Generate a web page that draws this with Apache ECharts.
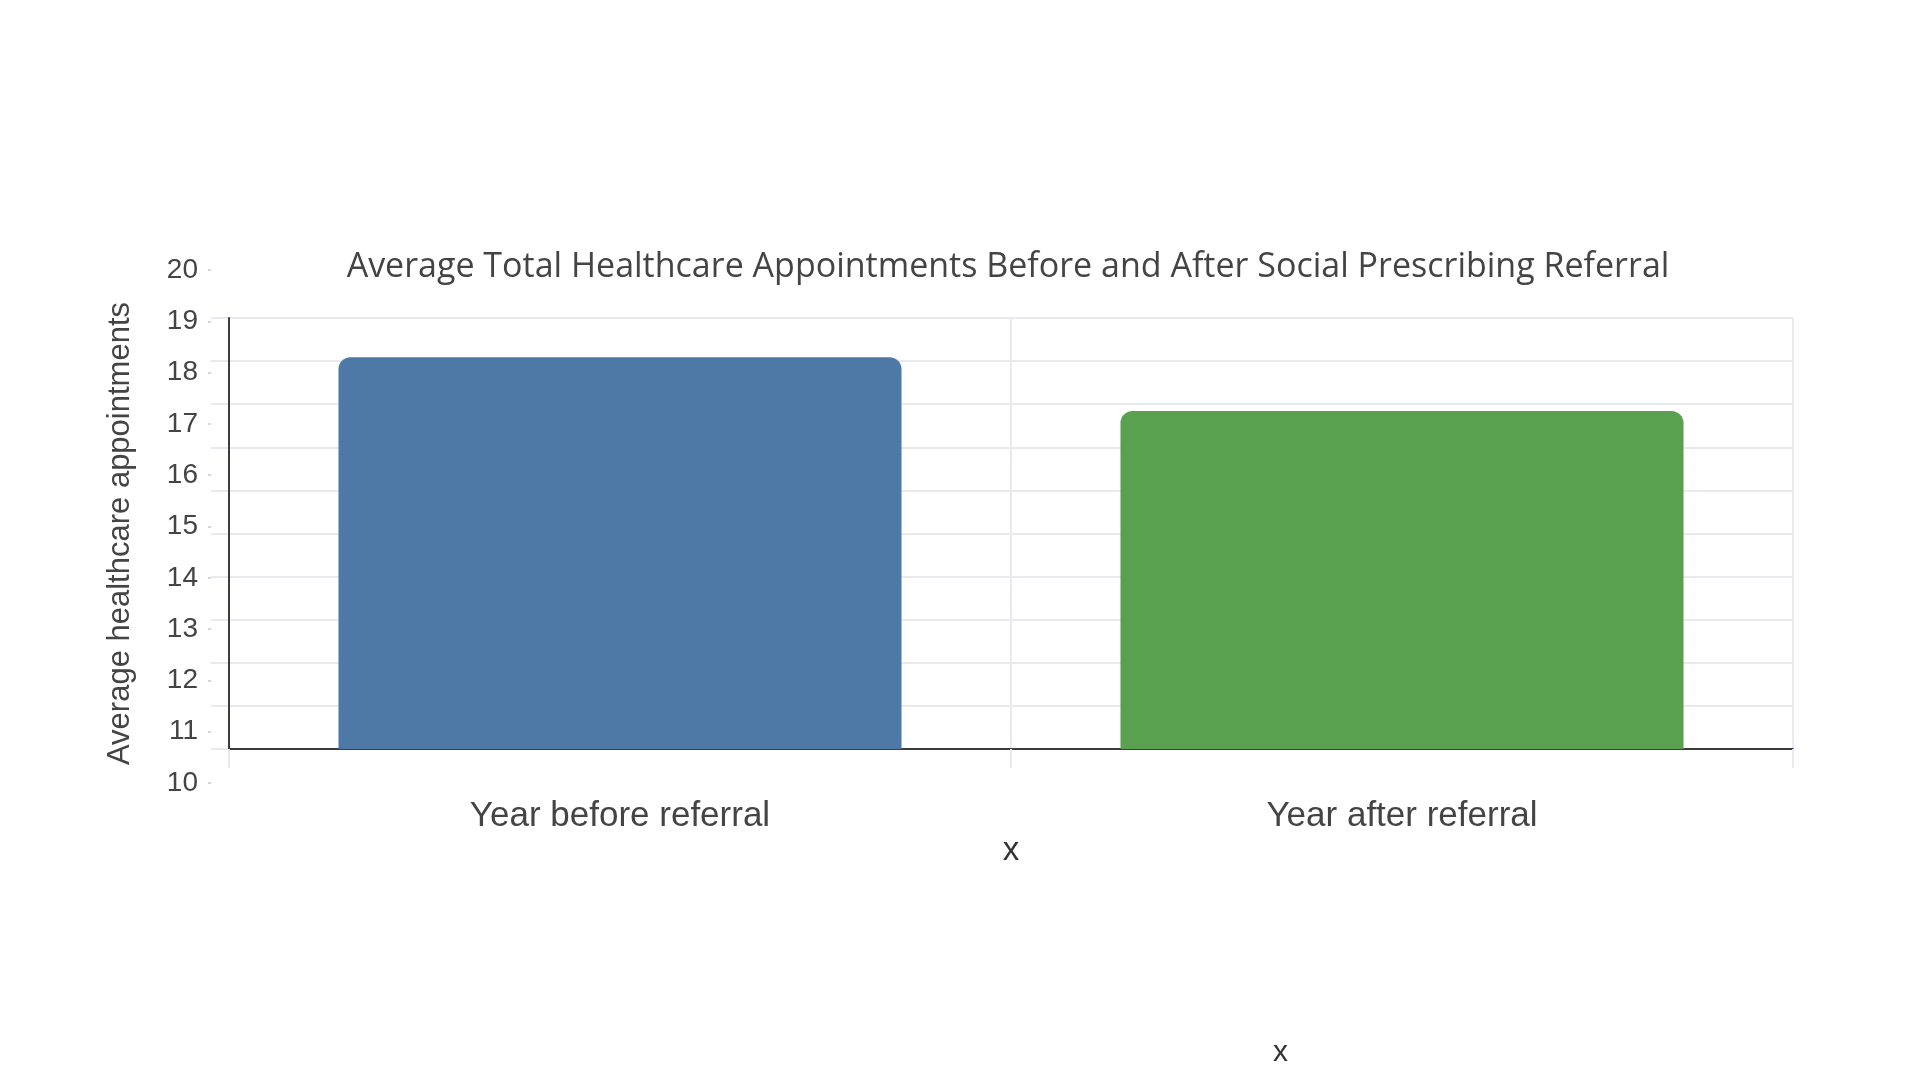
<!DOCTYPE html>
<html>
<head>
<meta charset="utf-8">
<script src="https://cdn.jsdelivr.net/npm/echarts@6/dist/echarts.min.js"></script>
<style>
  html, body { margin: 0; padding: 0; background: #ffffff; }
  #chart { width: 1920px; height: 1080px; }
</style>
</head>
<body>
<div id="chart"></div>
<script>
// ---- data ----
const categories = ['Year before referral', 'Year after referral'];
const appointments = [18.3, 17.25];
const barColors = ['#4e79a7', '#59a14f'];
const yTickLabels = [10, 11, 12, 13, 14, 15, 16, 17, 18, 19, 20];
const chartTitle = 'Average Total Healthcare Appointments Before and After Social Prescribing Referral';
const yAxisTitle = 'Average healthcare appointments';
const xAxisTitle = 'x';

// ---- layout (pixels) ----
const plotTop = 318, plotBottom = 749, plotLeft = 229, plotRight = 1793, gridLeft = 211;
const labelTop = 270, labelBottom = 783;
// scale of the drawn bar area expressed in the tick-label units
const labelUnitPx = (labelBottom - labelTop) / (yTickLabels[yTickLabels.length - 1] - yTickLabels[0]);
const barMin = yTickLabels[0] + (labelBottom - plotBottom) / labelUnitPx;
const barMax = yTickLabels[0] + (labelBottom - plotTop) / labelUnitPx;

const chart = echarts.init(document.getElementById('chart'));
const gridColor = '#e8eaef';
const axisDark = '#3c3c3c';

chart.setOption({
  animation: false,
  backgroundColor: '#ffffff',
  title: {
    text: chartTitle,
    left: 1003,
    textAlign: 'center',
    top: 245,
    textStyle: { fontFamily: 'Open Sans', fontSize: 34, fontWeight: 'normal', color: '#444444' }
  },
  grid: [
    { left: gridLeft, top: plotTop, width: plotRight - gridLeft, height: plotBottom - plotTop },
    { left: plotLeft, top: plotTop, width: plotRight - plotLeft, height: plotBottom - plotTop },
    { left: gridLeft, top: labelTop, width: 2, height: labelBottom - labelTop }
  ],
  xAxis: [
    { gridIndex: 0, type: 'value', show: false },
    {
      gridIndex: 1, type: 'category', data: categories, boundaryGap: true,
      axisLine: { show: true, lineStyle: { color: axisDark, width: 2 } },
      axisTick: { show: true, length: 19, lineStyle: { color: gridColor, width: 2 } },
      splitLine: { show: true, lineStyle: { color: gridColor, width: 2 } },
      axisLabel: { margin: 50, fontFamily: 'Liberation Sans', fontSize: 35, color: '#444444' },
      name: xAxisTitle, nameLocation: 'middle', nameGap: 82,
      nameTextStyle: { fontFamily: 'Liberation Sans', fontSize: 33, color: '#333333' }
    },
    { gridIndex: 2, type: 'value', show: false }
  ],
  yAxis: [
    {
      gridIndex: 0, type: 'value', min: 0, max: 10, interval: 1,
      axisLabel: { show: false }, axisLine: { show: false }, axisTick: { show: false },
      splitLine: { show: true, lineStyle: { color: gridColor, width: 2 } }
    },
    {
      gridIndex: 1, type: 'value', min: barMin, max: barMax,
      axisLabel: { show: false }, axisTick: { show: false }, splitLine: { show: false },
      axisLine: { show: true, lineStyle: { color: axisDark, width: 2 } },
      name: yAxisTitle, nameLocation: 'middle', nameGap: 93,
      nameTextStyle: { fontFamily: 'Liberation Sans', fontSize: 31, color: '#444444' }
    },
    {
      gridIndex: 2, type: 'value', min: yTickLabels[0], max: yTickLabels[yTickLabels.length - 1], interval: 1,
      axisLine: { show: false }, splitLine: { show: false },
      axisTick: { show: true, length: 3, lineStyle: { color: '#d6d6d6', width: 2 } },
      axisLabel: { margin: 13, fontFamily: 'Liberation Sans', fontSize: 28, color: '#444444' }
    }
  ],
  series: [
    {
      type: 'bar', xAxisIndex: 1, yAxisIndex: 1, barWidth: '72%',
      data: appointments.map((v, i) => ({ value: v, itemStyle: { color: barColors[i] } })),
      itemStyle: { borderRadius: [12, 12, 0, 0] }
    }
  ],
  graphic: [
    {
      type: 'text', left: 1273, top: 1038,
      style: { text: xAxisTitle, x: 0, y: 0, font: '30px "Liberation Sans"', fill: '#333333', textAlign: 'center', textVerticalAlign: 'middle' }
    }
  ]
});
</script>
</body>
</html>
